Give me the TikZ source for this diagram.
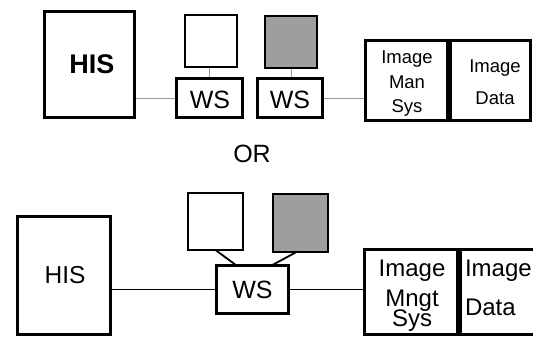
\documentclass[tikz,border=0pt]{standalone}
\usepackage{fontspec}
\setmainfont{Liberation Sans}
\usetikzlibrary{backgrounds}
\newcommand{\tightlines}{\lineskiplimit=-50pt\relax}
\begin{document}
\begin{tikzpicture}[x=1pt,y=-1pt,
  bx/.style={draw, line width=3pt, inner sep=0pt, outer sep=0pt},
  mon/.style={draw, line width=2pt, inner sep=0pt, outer sep=0pt},
  shade/.style={fill=black!38},
  lnk/.style={draw=black!40, line width=1pt},
  lnkb/.style={draw=black, line width=1.3pt},
  lnkd/.style={draw=black, line width=1.8pt},
  txt/.style={inner sep=0pt, outer sep=0pt, align=center}]
\useasboundingbox (0,0) rectangle (533,337);
\clip (0,0) rectangle (533,337);

% ---------- top variant ----------
\node[bx, minimum width=90pt, minimum height=106pt] (his1) at (89.5,64.5) {};
\node[mon, minimum width=52pt, minimum height=52pt] (mon1) at (211,41) {};
\node[mon, shade, minimum width=52pt, minimum height=52pt] (mon2) at (291,42) {};
\node[bx, minimum width=66pt, minimum height=39pt] (ws1) at (209.5,98) {};
\node[bx, minimum width=65pt, minimum height=39pt] (ws2) at (290,98) {};
\node[bx, minimum width=82pt, minimum height=79.5pt] (ims1) at (406.5,80.25) {};
\node[bx, minimum width=79.5pt, minimum height=79.5pt] (dat1) at (490.25,80.25) {};

\node[txt, anchor=base, font={\fontsize{27}{30}\selectfont\bfseries}] (his1t) at (92,74) {HIS};
\node[txt, anchor=base, font={\fontsize{25}{28}\selectfont}] (ws1t) at (210,108) {WS};
\node[txt, anchor=base, font={\fontsize{25}{28}\selectfont}] (ws2t) at (290,108) {WS};
\node[txt, anchor=north, font={\fontsize{18.5}{24.5}\selectfont\tightlines}] (ims1t) at (407,51) {Image\\Man\\Sys};
\node[txt, anchor=north, font={\fontsize{18.5}{32}\selectfont\tightlines}] (dat1t) at (495,60) {Image\\Data};

\node[txt, anchor=base, font={\fontsize{25}{28}\selectfont}] (or) at (252,162) {OR};

% ---------- bottom variant ----------
\node[bx, minimum width=93pt, minimum height=118pt] (his2) at (64,275.5) {};
\node[mon, minimum width=55pt, minimum height=57pt] (mon3) at (215.5,221.5) {};
\node[mon, shade, minimum width=55pt, minimum height=58pt] (mon4) at (300.5,223) {};
\node[bx, minimum width=72pt, minimum height=48pt] (ws3) at (252.5,289.5) {};
\node[bx, minimum width=93pt, minimum height=85pt] (ims2) at (411,292) {};
\node[bx, minimum width=98pt, minimum height=85pt] (dat2) at (509,292) {};

\node[txt, anchor=base, font={\fontsize{24.5}{28}\selectfont}] (his2t) at (65,283) {HIS};
\node[txt, anchor=base, font={\fontsize{25}{28}\selectfont}] (ws3t) at (252.5,298) {WS};
\node[txt, anchor=north, font={\fontsize{24}{24}\selectfont\tightlines}] (ims2t) at (412,260) {Image\\[6pt]Mngt\\[-4pt]Sys};
\node[txt, anchor=north west, align=left, font={\fontsize{24}{39}\selectfont\tightlines}] (dat2t) at (465,260) {Image\\Data};

% ---------- connectors ----------
\begin{scope}[on background layer]
\draw[lnk] (his1.east |- ws1.west) -- (ws1.west);
\draw[lnk] (ws2.east) -- (ws2.east -| ims1.west);
\draw[lnk] (mon1.south -| ws1.north) -- (ws1.north);
\draw[lnk] (mon2.south) -- (mon2.south |- ws2.north);
\draw[lnkb] (his2.east |- ws3.west) -- (ws3.west);
\draw[lnkb] (ws3.east) -- (ws3.east -| ims2.west);
\draw[lnkd] (mon3.south) -- ([xshift=-16pt]ws3.north);
\draw[lnkd] ([xshift=-4pt]mon4.south) -- ([xshift=19pt]ws3.north);
\end{scope}
\end{tikzpicture}
\end{document}
